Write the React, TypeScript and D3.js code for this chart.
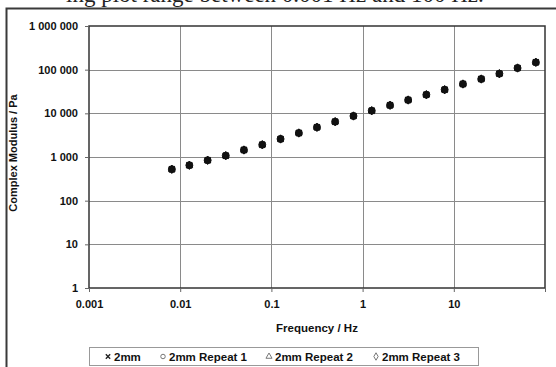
import { useEffect, useRef } from 'react'
import * as d3 from 'd3'

// frequency in Hz
const FREQ = [0.0081, 0.0126, 0.02, 0.0316, 0.05, 0.0794, 0.126, 0.2, 0.316, 0.5, 0.794, 1.26, 2, 3.16, 5, 7.94, 12.6, 20, 31.6, 50, 79.4]
// complex modulus in Pa
const G_2MM = [522, 646, 841, 1072, 1448, 1914, 2585, 3548, 4786, 6442, 8690, 11490, 15280, 20190, 26720, 34770, 46970, 61110, 80870, 109200, 147500]
const G_REP1 = [525, 648, 843, 1075, 1450, 1910, 2590, 3550, 4790, 6440, 8700, 11500, 15300, 20200, 26700, 34800, 47000, 61100, 80900, 109000, 147000]
const G_REP2 = [520, 644, 840, 1070, 1445, 1915, 2580, 3545, 4780, 6445, 8680, 11480, 15270, 20180, 26730, 34760, 46960, 61120, 80860, 109300, 147600]
const G_REP3 = [523, 647, 842, 1073, 1447, 1912, 2587, 3549, 4788, 6441, 8692, 11492, 15282, 20192, 26722, 34772, 46972, 61112, 80872, 109210, 147510]

const SERIES = ['2mm', '2mm Repeat 1', '2mm Repeat 2', '2mm Repeat 3']
const SERIES_VALUES = [G_2MM, G_REP1, G_REP2, G_REP3]
const SERIES_SYMBOL = [d3.symbolTimes, d3.symbolCircle, d3.symbolTriangle, d3.symbolDiamond]

const X_TICKS = [0.001, 0.01, 0.1, 1, 10, 100]
const X_LABELS = ['0.001', '0.01', '0.1', '1', '10', '']
const Y_TICKS = [1, 10, 100, 1000, 10000, 100000, 1000000]
const Y_LABELS = ['1', '10', '100', '1 000', '10 000', '100 000', '1 000 000']

const FONT = '"Liberation Sans", Arial, sans-serif'

export default function App() {
  const svgRef = useRef<SVGSVGElement>(null)

  useEffect(() => {
    const svgEl = svgRef.current
    if (!svgEl) return
    const svg = d3.select(svgEl)
    svg.selectAll('*').remove()

    const plot = { left: 89, right: 545, top: 26, bottom: 288 }

    const x = d3.scaleLog().domain([0.001, 100]).range([plot.left, plot.right])
    const y = d3.scaleLog().domain([1, 1000000]).range([plot.bottom, plot.top])

    svg.append('rect').attr('width', 556).attr('height', 367).attr('fill', '#fff')

    // cut-off line of document text above the chart
    svg.append('text')
      .attr('x', 66).attr('y', 2)
      .attr('font-family', '"Liberation Serif", serif')
      .attr('font-size', 23)
      .attr('fill', '#222')
      .text('ing plot range between 0.001 Hz and 100 Hz.')

    // outer chart frame
    svg.append('path')
      .attr('d', 'M6.5,370 L6.5,8.5 L560,8.5')
      .attr('fill', 'none').attr('stroke', '#3a3a3a').attr('stroke-width', 2)

    // grid
    svg.append('g').selectAll('line')
      .data(Y_TICKS.slice(1, -1))
      .join('line')
      .attr('x1', plot.left).attr('x2', plot.right)
      .attr('y1', d => Math.round(y(d)) + 0.5).attr('y2', d => Math.round(y(d)) + 0.5)
      .attr('stroke', '#8a8a8a').attr('stroke-width', 1)

    svg.append('g').selectAll('line')
      .data(X_TICKS.slice(1, -1))
      .join('line')
      .attr('x1', d => Math.round(x(d)) + 0.5).attr('x2', d => Math.round(x(d)) + 0.5)
      .attr('y1', plot.top).attr('y2', plot.bottom)
      .attr('stroke', '#8a8a8a').attr('stroke-width', 1)

    // plot border
    svg.append('rect')
      .attr('x', plot.left).attr('y', plot.top)
      .attr('width', plot.right - plot.left).attr('height', plot.bottom - plot.top)
      .attr('fill', 'none').attr('stroke', '#333').attr('stroke-width', 1.5)

    // axes
    svg.append('g')
      .attr('transform', `translate(0,${plot.bottom})`)
      .call(
        d3.axisBottom(x)
          .tickValues(X_TICKS)
          .tickFormat((_, i) => X_LABELS[i])
          .tickSize(4)
      )
      .call(ax => {
        ax.select('.domain').remove()
        ax.selectAll('.tick line').attr('stroke', '#666')
        ax.selectAll('.tick text')
          .attr('font-family', FONT)
          .attr('font-size', 11)
          .attr('font-weight', 700)
          .attr('fill', '#111')
          .attr('dy', 13)
      })

    svg.append('g')
      .attr('transform', `translate(${plot.left},0)`)
      .call(
        d3.axisLeft(y)
          .tickValues(Y_TICKS)
          .tickFormat((_, i) => Y_LABELS[i])
          .tickSize(4)
      )
      .call(ax => {
        ax.select('.domain').remove()
        ax.selectAll('.tick line').attr('stroke', '#666')
        ax.selectAll('.tick text')
          .attr('font-family', FONT)
          .attr('font-size', 11)
          .attr('font-weight', 700)
          .attr('fill', '#111')
          .attr('x', -11)
      })

    svg.append('text')
      .attr('x', (plot.left + plot.right) / 2).attr('y', 332)
      .attr('text-anchor', 'middle')
      .attr('font-family', FONT)
      .attr('font-size', 11.5).attr('font-weight', 700).attr('fill', '#111')
      .text('Frequency / Hz')

    svg.append('text')
      .attr('transform', 'rotate(-90)')
      .attr('x', -153).attr('y', 17)
      .attr('text-anchor', 'middle')
      .attr('font-family', FONT)
      .attr('font-size', 11).attr('font-weight', 700).attr('fill', '#111')
      .text('Complex Modulus / Pa')

    // points — the repeats overlap and merge into black blobs
    const plotSize = [24, 38, 18, 20]
    SERIES_VALUES.forEach((vals, s) => {
      const sym = d3.symbol().type(SERIES_SYMBOL[s]).size(plotSize[s])
      svg.append('g').selectAll('path')
        .data(vals.map((v, i) => ({ f: FREQ[i], v })))
        .join('path')
        .attr('transform', d => `translate(${x(d.f)},${y(d.v)})`)
        .attr('d', sym)
        .attr('fill', s === 0 ? 'none' : '#111')
        .attr('stroke', '#111')
        .attr('stroke-width', s === 0 ? 1.6 : 1)
    })

    // legend
    const lg = svg.append('g')
    lg.append('rect')
      .attr('x', 89.5).attr('y', 347.5).attr('width', 389).attr('height', 18)
      .attr('fill', '#fff').attr('stroke', '#999').attr('stroke-width', 1)

    const itemX = [108, 163, 269, 376]
    SERIES.forEach((name, i) => {
      const sym = d3.symbol().type(SERIES_SYMBOL[i]).size(i === 0 ? 14 : 16)
      lg.append('path')
        .attr('transform', `translate(${itemX[i]},${356.5})`)
        .attr('d', sym)
        .attr('fill', 'none').attr('stroke', i === 0 ? '#222' : '#777')
        .attr('stroke-width', i === 0 ? 1.4 : 1)
      lg.append('text')
        .attr('x', itemX[i] + 6).attr('y', 360.5)
        .attr('font-family', FONT)
        .attr('font-size', 11.5).attr('font-weight', 700).attr('fill', '#111')
        .text(name)
    })
  }, [])

  return (
    <svg
      ref={svgRef}
      width={556}
      height={367}
      style={{ position: 'absolute', left: 0, top: 0, display: 'block' }}
    />
  )
}
